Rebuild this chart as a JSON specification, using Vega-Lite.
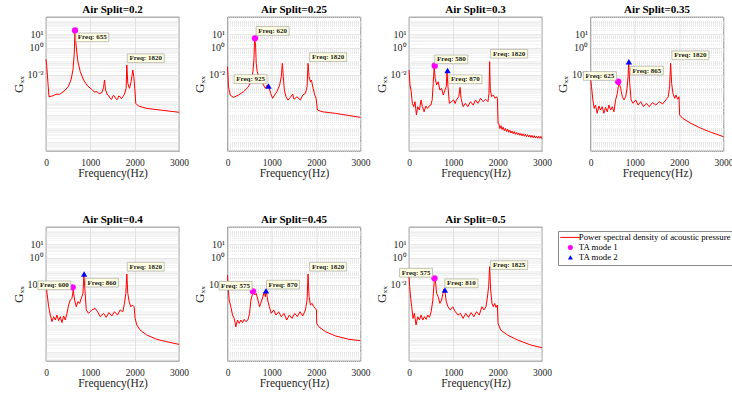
{
"$schema": "https://vega.github.io/schema/vega-lite/v6.json",
"padding": {"left": 11, "top": 3, "right": 0, "bottom": 0},
"background": "white",
"config": {"font": "Liberation Serif", "view": {"stroke": "#404040", "strokeWidth": 0.7}},
"data": {"values": [
{"s":"0.2","k":"p","f":0,"g":0.141},{"s":"0.2","k":"p","f":15,"g":0.05},{"s":"0.2","k":"p","f":45,"g":2.24e-3},{"s":"0.2","k":"p","f":68,"g":2.24e-4},{"s":"0.2","k":"p","f":135,"g":2.51e-4},{"s":"0.2","k":"p","f":190,"g":3.0e-4},{"s":"0.2","k":"p","f":248,"g":3.55e-4},{"s":"0.2","k":"p","f":300,"g":3.3e-4},{"s":"0.2","k":"p","f":360,"g":4.47e-4},{"s":"0.2","k":"p","f":435,"g":7.08e-4},{"s":"0.2","k":"p","f":510,"g":1.41e-3},{"s":"0.2","k":"p","f":563,"g":3.98e-3},{"s":"0.2","k":"p","f":608,"g":2.24e-2},{"s":"0.2","k":"p","f":638,"g":0.398},{"s":"0.2","k":"p","f":653,"g":19},{"s":"0.2","k":"p","f":668,"g":3.8},{"s":"0.2","k":"p","f":690,"g":0.69},{"s":"0.2","k":"p","f":720,"g":0.093},{"s":"0.2","k":"p","f":773,"g":1.66e-2},{"s":"0.2","k":"p","f":848,"g":3.98e-3},{"s":"0.2","k":"p","f":938,"g":1.41e-3},{"s":"0.2","k":"p","f":1035,"g":7.94e-4},{"s":"0.2","k":"p","f":1090,"g":5.0e-4},{"s":"0.2","k":"p","f":1148,"g":5.37e-4},{"s":"0.2","k":"p","f":1200,"g":3.8e-4},{"s":"0.2","k":"p","f":1260,"g":4.47e-4},{"s":"0.2","k":"p","f":1298,"g":1.12e-3},{"s":"0.2","k":"p","f":1320,"g":3.98e-3},{"s":"0.2","k":"p","f":1343,"g":7.08e-4},{"s":"0.2","k":"p","f":1388,"g":3.02e-4},{"s":"0.2","k":"p","f":1420,"g":2.51e-4},{"s":"0.2","k":"p","f":1448,"g":1.7e-4},{"s":"0.2","k":"p","f":1480,"g":1.41e-4},{"s":"0.2","k":"p","f":1508,"g":2.51e-4},{"s":"0.2","k":"p","f":1530,"g":2.82e-4},{"s":"0.2","k":"p","f":1560,"g":2.0e-4},{"s":"0.2","k":"p","f":1590,"g":1.41e-4},{"s":"0.2","k":"p","f":1613,"g":1.45e-4},{"s":"0.2","k":"p","f":1640,"g":2.51e-4},{"s":"0.2","k":"p","f":1673,"g":2.24e-4},{"s":"0.2","k":"p","f":1700,"g":1.58e-4},{"s":"0.2","k":"p","f":1733,"g":2.24e-4},{"s":"0.2","k":"p","f":1770,"g":3.55e-4},{"s":"0.2","k":"p","f":1808,"g":9.55e-4},{"s":"0.2","k":"p","f":1823,"g":5.25e-2},{"s":"0.2","k":"p","f":1845,"g":2.24e-3},{"s":"0.2","k":"p","f":1883,"g":9.55e-4},{"s":"0.2","k":"p","f":1920,"g":2.95e-3},{"s":"0.2","k":"p","f":1958,"g":2.19e-2},{"s":"0.2","k":"p","f":1980,"g":7.08e-3},{"s":"0.2","k":"p","f":2003,"g":9.55e-4},{"s":"0.2","k":"p","f":2025,"g":7.24e-5},{"s":"0.2","k":"p","f":2085,"g":4.57e-5},{"s":"0.2","k":"p","f":2273,"g":3.02e-5},{"s":"0.2","k":"p","f":2573,"g":2.29e-5},{"s":"0.2","k":"p","f":3000,"g":1.55e-5},
{"s":"0.25","k":"p","f":0,"g":3.89e-2},{"s":"0.25","k":"p","f":23,"g":1.26e-3},{"s":"0.25","k":"p","f":60,"g":3.02e-4},{"s":"0.25","k":"p","f":136,"g":2.0e-4},{"s":"0.25","k":"p","f":249,"g":3.02e-4},{"s":"0.25","k":"p","f":362,"g":5.37e-4},{"s":"0.25","k":"p","f":460,"g":1.12e-3},{"s":"0.25","k":"p","f":535,"g":2.95e-3},{"s":"0.25","k":"p","f":573,"g":1.66e-2},{"s":"0.25","k":"p","f":596,"g":0.123},{"s":"0.25","k":"p","f":611,"g":5.13},{"s":"0.25","k":"p","f":633,"g":1.62},{"s":"0.25","k":"p","f":648,"g":6.92e-2},{"s":"0.25","k":"p","f":671,"g":1.66e-2},{"s":"0.25","k":"p","f":716,"g":5.25e-3},{"s":"0.25","k":"p","f":792,"g":2.24e-3},{"s":"0.25","k":"p","f":852,"g":9.55e-4},{"s":"0.25","k":"p","f":897,"g":1.7e-3},{"s":"0.25","k":"p","f":927,"g":1.41e-3},{"s":"0.25","k":"p","f":973,"g":3.98e-4},{"s":"0.25","k":"p","f":1018,"g":1.7e-4},{"s":"0.25","k":"p","f":1063,"g":3.02e-4},{"s":"0.25","k":"p","f":1116,"g":5.37e-4},{"s":"0.25","k":"p","f":1176,"g":1.7e-3},{"s":"0.25","k":"p","f":1214,"g":7.08e-3},{"s":"0.25","k":"p","f":1237,"g":6.92e-2},{"s":"0.25","k":"p","f":1259,"g":7.08e-3},{"s":"0.25","k":"p","f":1282,"g":7.08e-4},{"s":"0.25","k":"p","f":1319,"g":2.24e-4},{"s":"0.25","k":"p","f":1365,"g":1.26e-4},{"s":"0.25","k":"p","f":1418,"g":2.0e-4},{"s":"0.25","k":"p","f":1470,"g":3.55e-4},{"s":"0.25","k":"p","f":1500,"g":1.45e-4},{"s":"0.25","k":"p","f":1568,"g":2.24e-4},{"s":"0.25","k":"p","f":1644,"g":1.26e-4},{"s":"0.25","k":"p","f":1697,"g":3.02e-4},{"s":"0.25","k":"p","f":1757,"g":3.98e-4},{"s":"0.25","k":"p","f":1795,"g":1.26e-3},{"s":"0.25","k":"p","f":1817,"g":6.92e-2},{"s":"0.25","k":"p","f":1840,"g":7.08e-3},{"s":"0.25","k":"p","f":1870,"g":2.95e-3},{"s":"0.25","k":"p","f":1893,"g":3.98e-3},{"s":"0.25","k":"p","f":1931,"g":9.55e-4},{"s":"0.25","k":"p","f":1968,"g":3.02e-4},{"s":"0.25","k":"p","f":1998,"g":1.7e-4},{"s":"0.25","k":"p","f":2028,"g":2.29e-5},{"s":"0.25","k":"p","f":2134,"g":1.7e-5},{"s":"0.25","k":"p","f":2435,"g":1.29e-5},{"s":"0.25","k":"p","f":3000,"g":6.46e-6},
{"s":"0.3","k":"p","f":0,"g":2.19e-2},{"s":"0.3","k":"p","f":23,"g":1.7e-3},{"s":"0.3","k":"p","f":45,"g":7.08e-4},{"s":"0.3","k":"p","f":76,"g":7.24e-5},{"s":"0.3","k":"p","f":106,"g":4.07e-5},{"s":"0.3","k":"p","f":136,"g":9.55e-5},{"s":"0.3","k":"p","f":167,"g":9.77e-6},{"s":"0.3","k":"p","f":197,"g":4.07e-5},{"s":"0.3","k":"p","f":235,"g":2.29e-5},{"s":"0.3","k":"p","f":273,"g":1.29e-4},{"s":"0.3","k":"p","f":303,"g":4.07e-5},{"s":"0.3","k":"p","f":341,"g":1.7e-5},{"s":"0.3","k":"p","f":379,"g":4.57e-5},{"s":"0.3","k":"p","f":417,"g":3.02e-5},{"s":"0.3","k":"p","f":455,"g":4.57e-5},{"s":"0.3","k":"p","f":493,"g":5.37e-5},{"s":"0.3","k":"p","f":523,"g":1.29e-4},{"s":"0.3","k":"p","f":546,"g":2.24e-3},{"s":"0.3","k":"p","f":568,"g":3.89e-2},{"s":"0.3","k":"p","f":591,"g":5.25e-3},{"s":"0.3","k":"p","f":622,"g":1.7e-3},{"s":"0.3","k":"p","f":659,"g":2.95e-3},{"s":"0.3","k":"p","f":697,"g":7.08e-4},{"s":"0.3","k":"p","f":735,"g":9.55e-4},{"s":"0.3","k":"p","f":773,"g":3.02e-4},{"s":"0.3","k":"p","f":811,"g":7.08e-4},{"s":"0.3","k":"p","f":841,"g":1.26e-3},{"s":"0.3","k":"p","f":857,"g":2.0e-2},{"s":"0.3","k":"p","f":879,"g":1.26e-3},{"s":"0.3","k":"p","f":910,"g":7.24e-5},{"s":"0.3","k":"p","f":955,"g":9.55e-5},{"s":"0.3","k":"p","f":1008,"g":1.29e-4},{"s":"0.3","k":"p","f":1040,"g":7.0e-5},{"s":"0.3","k":"p","f":1069,"g":1.29e-4},{"s":"0.3","k":"p","f":1122,"g":2.24e-4},{"s":"0.3","k":"p","f":1152,"g":1.12e-3},{"s":"0.3","k":"p","f":1175,"g":1.7e-4},{"s":"0.3","k":"p","f":1220,"g":4.07e-5},{"s":"0.3","k":"p","f":1273,"g":7.24e-5},{"s":"0.3","k":"p","f":1327,"g":4.07e-5},{"s":"0.3","k":"p","f":1387,"g":9.55e-5},{"s":"0.3","k":"p","f":1448,"g":5.37e-5},{"s":"0.3","k":"p","f":1501,"g":1.29e-4},{"s":"0.3","k":"p","f":1554,"g":7.24e-5},{"s":"0.3","k":"p","f":1615,"g":1.7e-4},{"s":"0.3","k":"p","f":1675,"g":9.55e-5},{"s":"0.3","k":"p","f":1728,"g":1.45e-4},{"s":"0.3","k":"p","f":1781,"g":9.55e-5},{"s":"0.3","k":"p","f":1804,"g":3.98e-4},{"s":"0.3","k":"p","f":1819,"g":9.33e-2},{"s":"0.3","k":"p","f":1834,"g":7.08e-4},{"s":"0.3","k":"p","f":1865,"g":2.24e-4},{"s":"0.3","k":"p","f":1903,"g":3.02e-4},{"s":"0.3","k":"p","f":1941,"g":1.7e-4},{"s":"0.3","k":"p","f":1971,"g":2.24e-4},{"s":"0.3","k":"p","f":1993,"g":1.7e-4},{"s":"0.3","k":"p","f":2009,"g":2.29e-6},
{"s":"0.3","k":"p","f":2025,"g":2.29e-6},{"s":"0.3","k":"p","f":2050,"g":9.55e-7},{"s":"0.3","k":"p","f":2075,"g":1.55e-6},{"s":"0.3","k":"p","f":2100,"g":7.94e-7},{"s":"0.3","k":"p","f":2125,"g":1.2e-6},{"s":"0.3","k":"p","f":2150,"g":6.61e-7},{"s":"0.3","k":"p","f":2175,"g":9.77e-7},{"s":"0.3","k":"p","f":2200,"g":5.62e-7},{"s":"0.3","k":"p","f":2225,"g":8.32e-7},{"s":"0.3","k":"p","f":2250,"g":4.9e-7},{"s":"0.3","k":"p","f":2275,"g":7.08e-7},{"s":"0.3","k":"p","f":2300,"g":4.37e-7},{"s":"0.3","k":"p","f":2325,"g":6.17e-7},{"s":"0.3","k":"p","f":2350,"g":3.89e-7},{"s":"0.3","k":"p","f":2375,"g":5.62e-7},{"s":"0.3","k":"p","f":2400,"g":3.47e-7},{"s":"0.3","k":"p","f":2425,"g":4.9e-7},{"s":"0.3","k":"p","f":2450,"g":3.24e-7},{"s":"0.3","k":"p","f":2475,"g":4.47e-7},{"s":"0.3","k":"p","f":2500,"g":2.95e-7},{"s":"0.3","k":"p","f":2525,"g":4.07e-7},{"s":"0.3","k":"p","f":2550,"g":2.69e-7},{"s":"0.3","k":"p","f":2575,"g":3.8e-7},{"s":"0.3","k":"p","f":2600,"g":2.51e-7},{"s":"0.3","k":"p","f":2625,"g":3.55e-7},{"s":"0.3","k":"p","f":2650,"g":2.34e-7},{"s":"0.3","k":"p","f":2675,"g":3.31e-7},{"s":"0.3","k":"p","f":2700,"g":2.19e-7},{"s":"0.3","k":"p","f":2725,"g":3.09e-7},{"s":"0.3","k":"p","f":2750,"g":2.09e-7},{"s":"0.3","k":"p","f":2775,"g":2.95e-7},{"s":"0.3","k":"p","f":2800,"g":1.95e-7},{"s":"0.3","k":"p","f":2825,"g":2.75e-7},{"s":"0.3","k":"p","f":2850,"g":1.86e-7},{"s":"0.3","k":"p","f":2875,"g":2.63e-7},{"s":"0.3","k":"p","f":2900,"g":1.78e-7},{"s":"0.3","k":"p","f":2925,"g":2.51e-7},{"s":"0.3","k":"p","f":2950,"g":1.74e-7},{"s":"0.3","k":"p","f":2975,"g":2.45e-7},{"s":"0.3","k":"p","f":3000,"g":1.66e-7},
{"s":"0.35","k":"p","f":0,"g":5.25e-3},{"s":"0.35","k":"p","f":23,"g":1.26e-3},{"s":"0.35","k":"p","f":53,"g":1.29e-4},{"s":"0.35","k":"p","f":83,"g":3.02e-5},{"s":"0.35","k":"p","f":113,"g":5.37e-5},{"s":"0.35","k":"p","f":151,"g":1.29e-5},{"s":"0.35","k":"p","f":189,"g":4.57e-5},{"s":"0.35","k":"p","f":227,"g":2.29e-5},{"s":"0.35","k":"p","f":265,"g":4.07e-5},{"s":"0.35","k":"p","f":302,"g":1.29e-5},{"s":"0.35","k":"p","f":340,"g":3.63e-5},{"s":"0.35","k":"p","f":378,"g":1.7e-5},{"s":"0.35","k":"p","f":416,"g":5.37e-5},{"s":"0.35","k":"p","f":454,"g":2.29e-5},{"s":"0.35","k":"p","f":491,"g":4.07e-5},{"s":"0.35","k":"p","f":529,"g":1.7e-5},{"s":"0.35","k":"p","f":567,"g":1.29e-4},{"s":"0.35","k":"p","f":605,"g":3.98e-4},{"s":"0.35","k":"p","f":643,"g":2.95e-3},{"s":"0.35","k":"p","f":680,"g":9.55e-4},{"s":"0.35","k":"p","f":718,"g":2.24e-4},{"s":"0.35","k":"p","f":756,"g":1.29e-4},{"s":"0.35","k":"p","f":794,"g":2.24e-4},{"s":"0.35","k":"p","f":824,"g":9.55e-4},{"s":"0.35","k":"p","f":847,"g":7.08e-3},{"s":"0.35","k":"p","f":862,"g":7.76e-2},{"s":"0.35","k":"p","f":885,"g":2.24e-3},{"s":"0.35","k":"p","f":915,"g":1.29e-4},{"s":"0.35","k":"p","f":960,"g":7.24e-5},{"s":"0.35","k":"p","f":1021,"g":1.29e-4},{"s":"0.35","k":"p","f":1074,"g":5.37e-5},{"s":"0.35","k":"p","f":1134,"g":9.55e-5},{"s":"0.35","k":"p","f":1194,"g":4.07e-5},{"s":"0.35","k":"p","f":1262,"g":7.24e-5},{"s":"0.35","k":"p","f":1323,"g":4.07e-5},{"s":"0.35","k":"p","f":1399,"g":8.13e-5},{"s":"0.35","k":"p","f":1474,"g":5.37e-5},{"s":"0.35","k":"p","f":1550,"g":9.55e-5},{"s":"0.35","k":"p","f":1625,"g":6.46e-5},{"s":"0.35","k":"p","f":1701,"g":1.29e-4},{"s":"0.35","k":"p","f":1754,"g":2.24e-4},{"s":"0.35","k":"p","f":1784,"g":1.26e-3},{"s":"0.35","k":"p","f":1807,"g":6.92e-2},{"s":"0.35","k":"p","f":1830,"g":2.24e-3},{"s":"0.35","k":"p","f":1860,"g":3.98e-4},{"s":"0.35","k":"p","f":1898,"g":1.7e-4},{"s":"0.35","k":"p","f":1928,"g":3.02e-4},{"s":"0.35","k":"p","f":1966,"g":1.45e-4},{"s":"0.35","k":"p","f":1996,"g":2.24e-4},{"s":"0.35","k":"p","f":2011,"g":9.77e-6},{"s":"0.35","k":"p","f":2079,"g":5.5e-6},{"s":"0.35","k":"p","f":2268,"g":2.29e-6},{"s":"0.35","k":"p","f":2495,"g":9.77e-7},{"s":"0.35","k":"p","f":2722,"g":4.9e-7},{"s":"0.35","k":"p","f":3000,"g":2.34e-7},
{"s":"0.4","k":"p","f":0,"g":1.66e-2},{"s":"0.4","k":"p","f":23,"g":2.24e-3},{"s":"0.4","k":"p","f":60,"g":2.24e-4},{"s":"0.4","k":"p","f":98,"g":5.37e-5},{"s":"0.4","k":"p","f":135,"g":1.74e-5},{"s":"0.4","k":"p","f":173,"g":4.07e-5},{"s":"0.4","k":"p","f":210,"g":2.29e-5},{"s":"0.4","k":"p","f":248,"g":5.37e-5},{"s":"0.4","k":"p","f":285,"g":2.04e-5},{"s":"0.4","k":"p","f":323,"g":4.07e-5},{"s":"0.4","k":"p","f":360,"g":1.45e-5},{"s":"0.4","k":"p","f":398,"g":4.57e-5},{"s":"0.4","k":"p","f":435,"g":2.29e-5},{"s":"0.4","k":"p","f":473,"g":7.24e-5},{"s":"0.4","k":"p","f":510,"g":3.02e-4},{"s":"0.4","k":"p","f":548,"g":7.08e-4},{"s":"0.4","k":"p","f":585,"g":9.55e-4},{"s":"0.4","k":"p","f":615,"g":3.98e-3},{"s":"0.4","k":"p","f":645,"g":7.08e-4},{"s":"0.4","k":"p","f":683,"g":2.24e-4},{"s":"0.4","k":"p","f":720,"g":5.37e-4},{"s":"0.4","k":"p","f":758,"g":3.98e-4},{"s":"0.4","k":"p","f":795,"g":9.55e-4},{"s":"0.4","k":"p","f":833,"g":2.24e-3},{"s":"0.4","k":"p","f":855,"g":5.25e-2},{"s":"0.4","k":"p","f":878,"g":3.98e-3},{"s":"0.4","k":"p","f":908,"g":1.29e-4},{"s":"0.4","k":"p","f":960,"g":7.24e-5},{"s":"0.4","k":"p","f":1035,"g":1.29e-4},{"s":"0.4","k":"p","f":1110,"g":1.7e-4},{"s":"0.4","k":"p","f":1163,"g":9.55e-5},{"s":"0.4","k":"p","f":1223,"g":4.07e-5},{"s":"0.4","k":"p","f":1298,"g":7.24e-5},{"s":"0.4","k":"p","f":1358,"g":3.63e-5},{"s":"0.4","k":"p","f":1418,"g":8.13e-5},{"s":"0.4","k":"p","f":1485,"g":4.57e-5},{"s":"0.4","k":"p","f":1545,"g":9.55e-5},{"s":"0.4","k":"p","f":1613,"g":5.37e-5},{"s":"0.4","k":"p","f":1673,"g":1.29e-4},{"s":"0.4","k":"p","f":1733,"g":9.55e-5},{"s":"0.4","k":"p","f":1770,"g":3.98e-4},{"s":"0.4","k":"p","f":1800,"g":2.24e-3},{"s":"0.4","k":"p","f":1823,"g":6.17e-2},{"s":"0.4","k":"p","f":1845,"g":2.24e-3},{"s":"0.4","k":"p","f":1875,"g":5.37e-4},{"s":"0.4","k":"p","f":1913,"g":2.24e-4},{"s":"0.4","k":"p","f":1950,"g":3.02e-4},{"s":"0.4","k":"p","f":1988,"g":2.24e-4},{"s":"0.4","k":"p","f":2010,"g":3.02e-5},{"s":"0.4","k":"p","f":2048,"g":9.77e-6},{"s":"0.4","k":"p","f":2123,"g":4.07e-6},{"s":"0.4","k":"p","f":2273,"g":1.74e-6},{"s":"0.4","k":"p","f":2498,"g":8.32e-7},{"s":"0.4","k":"p","f":2723,"g":5.5e-7},{"s":"0.4","k":"p","f":3000,"g":3.47e-7},
{"s":"0.45","k":"p","f":0,"g":5.25e-2},{"s":"0.45","k":"p","f":15,"g":7.08e-3},{"s":"0.45","k":"p","f":38,"g":7.08e-4},{"s":"0.45","k":"p","f":75,"g":2.24e-4},{"s":"0.45","k":"p","f":113,"g":5.37e-5},{"s":"0.45","k":"p","f":151,"g":3.02e-5},{"s":"0.45","k":"p","f":188,"g":7.24e-6},{"s":"0.45","k":"p","f":226,"g":2.29e-5},{"s":"0.45","k":"p","f":264,"g":1.29e-5},{"s":"0.45","k":"p","f":302,"g":2.29e-5},{"s":"0.45","k":"p","f":339,"g":1.45e-5},{"s":"0.45","k":"p","f":377,"g":2.57e-5},{"s":"0.45","k":"p","f":415,"g":1.74e-5},{"s":"0.45","k":"p","f":460,"g":2.29e-5},{"s":"0.45","k":"p","f":498,"g":7.24e-5},{"s":"0.45","k":"p","f":528,"g":7.08e-4},{"s":"0.45","k":"p","f":558,"g":1.7e-3},{"s":"0.45","k":"p","f":588,"g":3.55e-3},{"s":"0.45","k":"p","f":618,"g":1.7e-3},{"s":"0.45","k":"p","f":648,"g":2.24e-3},{"s":"0.45","k":"p","f":686,"g":7.08e-4},{"s":"0.45","k":"p","f":724,"g":2.24e-4},{"s":"0.45","k":"p","f":762,"g":5.37e-4},{"s":"0.45","k":"p","f":799,"g":1.26e-3},{"s":"0.45","k":"p","f":829,"g":2.95e-3},{"s":"0.45","k":"p","f":852,"g":1.26e-3},{"s":"0.45","k":"p","f":875,"g":3.55e-3},{"s":"0.45","k":"p","f":905,"g":7.08e-4},{"s":"0.45","k":"p","f":943,"g":2.24e-4},{"s":"0.45","k":"p","f":988,"g":7.24e-5},{"s":"0.45","k":"p","f":1041,"g":1.29e-4},{"s":"0.45","k":"p","f":1093,"g":5.37e-5},{"s":"0.45","k":"p","f":1154,"g":9.55e-5},{"s":"0.45","k":"p","f":1214,"g":4.07e-5},{"s":"0.45","k":"p","f":1274,"g":7.24e-5},{"s":"0.45","k":"p","f":1335,"g":2.29e-5},{"s":"0.45","k":"p","f":1395,"g":5.37e-5},{"s":"0.45","k":"p","f":1455,"g":3.02e-5},{"s":"0.45","k":"p","f":1516,"g":7.24e-5},{"s":"0.45","k":"p","f":1576,"g":4.07e-5},{"s":"0.45","k":"p","f":1636,"g":9.55e-5},{"s":"0.45","k":"p","f":1697,"g":4.57e-5},{"s":"0.45","k":"p","f":1757,"g":1.29e-4},{"s":"0.45","k":"p","f":1795,"g":7.08e-4},{"s":"0.45","k":"p","f":1817,"g":6.17e-2},{"s":"0.45","k":"p","f":1840,"g":1.26e-3},{"s":"0.45","k":"p","f":1870,"g":3.02e-4},{"s":"0.45","k":"p","f":1908,"g":3.98e-4},{"s":"0.45","k":"p","f":1945,"g":2.24e-4},{"s":"0.45","k":"p","f":1983,"g":1.7e-4},{"s":"0.45","k":"p","f":2006,"g":1.29e-4},{"s":"0.45","k":"p","f":2013,"g":1.29e-5},{"s":"0.45","k":"p","f":2058,"g":7.24e-6},{"s":"0.45","k":"p","f":2209,"g":3.09e-6},{"s":"0.45","k":"p","f":2435,"g":1.48e-6},{"s":"0.45","k":"p","f":2737,"g":8.32e-7},{"s":"0.45","k":"p","f":3000,"g":6.61e-7},
{"s":"0.5","k":"p","f":0,"g":3.89e-2},{"s":"0.5","k":"p","f":15,"g":7.08e-3},{"s":"0.5","k":"p","f":38,"g":9.55e-4},{"s":"0.5","k":"p","f":61,"g":2.24e-4},{"s":"0.5","k":"p","f":91,"g":3.02e-5},{"s":"0.5","k":"p","f":121,"g":7.24e-5},{"s":"0.5","k":"p","f":159,"g":9.77e-6},{"s":"0.5","k":"p","f":197,"g":4.07e-5},{"s":"0.5","k":"p","f":235,"g":2.29e-5},{"s":"0.5","k":"p","f":273,"g":5.37e-5},{"s":"0.5","k":"p","f":311,"g":2.29e-5},{"s":"0.5","k":"p","f":349,"g":4.07e-5},{"s":"0.5","k":"p","f":387,"g":2.57e-5},{"s":"0.5","k":"p","f":424,"g":5.37e-5},{"s":"0.5","k":"p","f":462,"g":3.63e-5},{"s":"0.5","k":"p","f":500,"g":9.55e-5},{"s":"0.5","k":"p","f":538,"g":7.08e-4},{"s":"0.5","k":"p","f":568,"g":1.66e-2},{"s":"0.5","k":"p","f":591,"g":2.95e-2},{"s":"0.5","k":"p","f":622,"g":2.24e-3},{"s":"0.5","k":"p","f":659,"g":1.26e-3},{"s":"0.5","k":"p","f":697,"g":3.98e-4},{"s":"0.5","k":"p","f":735,"g":7.08e-4},{"s":"0.5","k":"p","f":766,"g":2.24e-3},{"s":"0.5","k":"p","f":788,"g":4.47e-3},{"s":"0.5","k":"p","f":811,"g":2.95e-3},{"s":"0.5","k":"p","f":841,"g":5.37e-4},{"s":"0.5","k":"p","f":879,"g":2.24e-4},{"s":"0.5","k":"p","f":932,"g":1.29e-4},{"s":"0.5","k":"p","f":985,"g":2.24e-4},{"s":"0.5","k":"p","f":1046,"g":9.55e-5},{"s":"0.5","k":"p","f":1107,"g":5.37e-5},{"s":"0.5","k":"p","f":1160,"g":7.24e-5},{"s":"0.5","k":"p","f":1220,"g":3.02e-5},{"s":"0.5","k":"p","f":1281,"g":7.24e-5},{"s":"0.5","k":"p","f":1342,"g":3.63e-5},{"s":"0.5","k":"p","f":1402,"g":8.13e-5},{"s":"0.5","k":"p","f":1463,"g":4.07e-5},{"s":"0.5","k":"p","f":1524,"g":9.55e-5},{"s":"0.5","k":"p","f":1584,"g":5.37e-5},{"s":"0.5","k":"p","f":1645,"g":2.24e-4},{"s":"0.5","k":"p","f":1690,"g":1.29e-4},{"s":"0.5","k":"p","f":1736,"g":2.24e-4},{"s":"0.5","k":"p","f":1766,"g":9.55e-4},{"s":"0.5","k":"p","f":1796,"g":7.08e-3},{"s":"0.5","k":"p","f":1819,"g":0.219},{"s":"0.5","k":"p","f":1842,"g":3.98e-3},{"s":"0.5","k":"p","f":1872,"g":3.98e-4},{"s":"0.5","k":"p","f":1903,"g":2.24e-4},{"s":"0.5","k":"p","f":1933,"g":3.98e-4},{"s":"0.5","k":"p","f":1963,"g":2.0e-4},{"s":"0.5","k":"p","f":1993,"g":3.02e-4},{"s":"0.5","k":"p","f":2009,"g":1.29e-5},{"s":"0.5","k":"p","f":2069,"g":4.07e-6},{"s":"0.5","k":"p","f":2221,"g":1.74e-6},{"s":"0.5","k":"p","f":2448,"g":7.41e-7},{"s":"0.5","k":"p","f":2751,"g":3.09e-7},{"s":"0.5","k":"p","f":3000,"g":1.95e-7},
{"s":"0.2","k":"TA mode 1","f":655,"g":20},
{"s":"0.25","k":"TA mode 1","f":620,"g":5.1},{"s":"0.25","k":"TA mode 2","f":925,"g":1.41e-3},
{"s":"0.3","k":"TA mode 1","f":580,"g":4.68e-2},{"s":"0.3","k":"TA mode 2","f":870,"g":2.0e-2},
{"s":"0.35","k":"TA mode 1","f":625,"g":2.95e-3},{"s":"0.35","k":"TA mode 2","f":865,"g":9.33e-2},
{"s":"0.4","k":"TA mode 1","f":600,"g":6.3e-3},{"s":"0.4","k":"TA mode 2","f":860,"g":6.17e-2},
{"s":"0.45","k":"TA mode 1","f":575,"g":3.16e-3},{"s":"0.45","k":"TA mode 2","f":870,"g":3.55e-3},
{"s":"0.5","k":"TA mode 1","f":575,"g":2.95e-2},{"s":"0.5","k":"TA mode 2","f":810,"g":3.98e-3},
{"s":"0.2","k":"b","t":"Freq: 655","f":1043,"g":6.03},{"s":"0.2","k":"b","t":"Freq: 1820","f":2250,"g":0.166},
{"s":"0.25","k":"b","t":"Freq: 620","f":1018,"g":18.2},{"s":"0.25","k":"b","t":"Freq: 925","f":520,"g":4.68e-3},{"s":"0.25","k":"b","t":"Freq: 1820","f":2270,"g":0.204},
{"s":"0.3","k":"b","t":"Freq: 580","f":955,"g":0.138},{"s":"0.3","k":"b","t":"Freq: 870","f":1273,"g":4.47e-3},{"s":"0.3","k":"b","t":"Freq: 1820","f":2259,"g":0.363},
{"s":"0.35","k":"b","t":"Freq: 625","f":212,"g":7.94e-3},{"s":"0.35","k":"b","t":"Freq: 865","f":1270,"g":2.0e-2},{"s":"0.35","k":"b","t":"Freq: 1820","f":2253,"g":0.275},
{"s":"0.4","k":"b","t":"Freq: 600","f":188,"g":8.9e-3},{"s":"0.4","k":"b","t":"Freq: 860","f":1260,"g":1.41e-2},{"s":"0.4","k":"b","t":"Freq: 1820","f":2250,"g":0.219},
{"s":"0.45","k":"b","t":"Freq: 575","f":181,"g":8.3e-3},{"s":"0.45","k":"b","t":"Freq: 870","f":1252,"g":1.0e-2},{"s":"0.45","k":"b","t":"Freq: 1820","f":2270,"g":0.219},
{"s":"0.5","k":"b","t":"Freq: 575","f":159,"g":7.76e-2},{"s":"0.5","k":"b","t":"Freq: 810","f":1182,"g":1.26e-2},{"s":"0.5","k":"b","t":"Freq: 1825","f":2259,"g":0.288}
]},
"facet": {"field": "s", "type": "nominal", "header": {"title": null, "labelExpr": "'Air Split=' + datum.value", "labelFont": "Liberation Serif", "labelFontSize": 11, "labelFontWeight": "bold", "labelColor": "black", "labelPadding": -3}},
"columns": 4,
"bounds": "flush",
"spacing": {"column": 48.5, "row": 76},
"resolve": {"axis": {"x": "independent", "y": "independent"}},
"spec": {
  "width": 133,
  "height": 134,
  "encoding": {
    "x": {"field": "f", "type": "quantitative", "scale": {"domain": [0, 3000], "nice": false, "zero": false},
      "axis": {"values": [0, 1000, 2000, 3000], "format": "d", "title": "Frequency(Hz)", "titleFont": "Liberation Serif", "titleFontSize": 11.5, "titleFontWeight": "normal", "titleColor": "#262626", "titlePadding": 1, "labelFont": "Liberation Serif", "labelFontSize": 9.5, "labelColor": "#262626", "labelPadding": 6, "ticks": false, "domain": false, "grid": true, "gridColor": "#d8d8d8", "gridWidth": 0.7, "labelFlush": false}},
    "y": {"field": "g", "type": "quantitative", "scale": {"type": "log", "domain": [2e-8, 200], "nice": false},
      "axis": {"tickCount": 100, "labelOverlap": false, "labelExpr": "datum.value == 10 ? '10¹' : datum.value == 1 ? '10⁰' : datum.value == 0.01 ? '10⁻²' : ''", "title": "Gₓₓ", "titleFont": "Liberation Serif", "titleFontSize": 13, "titleFontWeight": "normal", "titleColor": "#262626", "titlePadding": 2, "labelFont": "Liberation Serif", "labelFontSize": 10, "labelColor": "#262626", "labelPadding": 3, "ticks": false, "domain": false, "grid": true, "gridColor": "#dcdcdc", "gridWidth": 0.6,
        "gridDash": {"condition": {"test": "datum.value == 10 || datum.value == 1 || datum.value == 0.01", "value": []}, "value": [1, 1]}}}
  },
  "layer": [
    {"transform": [{"filter": "datum.k == 'p'"}], "mark": {"type": "line", "color": "#ff0000", "strokeWidth": 1}, "encoding": {"order": {"field": "f", "type": "quantitative"}}},
    {"transform": [{"filter": "datum.k == 'TA mode 1' || datum.k == 'TA mode 2'"}], "mark": {"type": "point", "filled": true, "opacity": 1, "size": 40},
      "encoding": {
        "color": {"field": "k", "type": "nominal", "scale": {"domain": ["Power spectral density of acoustic pressure", "TA mode 1", "TA mode 2"], "range": ["#ff0000", "#ff00ff", "#0000ff"]},
          "legend": {"title": null, "orient": "none", "legendX": 512, "legendY": 214, "labelFont": "Liberation Serif", "labelFontSize": 8.8, "labelColor": "black", "labelLimit": 400, "strokeColor": "#888888", "fillColor": "white", "padding": 2, "rowPadding": 0, "symbolSize": 25, "symbolOffset": 6, "labelOffset": 4, "symbolStrokeWidth": 0}},
        "shape": {"field": "k", "type": "nominal", "scale": {"domain": ["Power spectral density of acoustic pressure", "TA mode 1", "TA mode 2"], "range": ["M-4,-0.2L4,-0.2L4,0.2L-4,0.2Z", "circle", "triangle-up"]}}
      }},
    {"transform": [{"filter": "datum.k == 'b'"}], "mark": {"type": "point", "filled": true, "fill": "#ffffe1", "stroke": "#9a9a9a", "strokeWidth": 0.6, "opacity": 1},
      "encoding": {
        "shape": {"condition": {"test": "length(datum.t) > 9", "value": "M-1,-0.235L1,-0.235L1,0.235L-1,0.235Z"}, "value": "M-1,-0.264L1,-0.264L1,0.264L-1,0.264Z"},
        "size": {"condition": {"test": "length(datum.t) > 9", "value": 1369}, "value": 1089}
      }},
    {"transform": [{"filter": "datum.k == 'b'"}], "mark": {"type": "text", "font": "Liberation Serif", "fontWeight": "bold", "fontSize": 7, "color": "#1a1a1a", "baseline": "middle", "align": "center"},
      "encoding": {"text": {"field": "t", "type": "nominal"}}}
  ]
}
}
